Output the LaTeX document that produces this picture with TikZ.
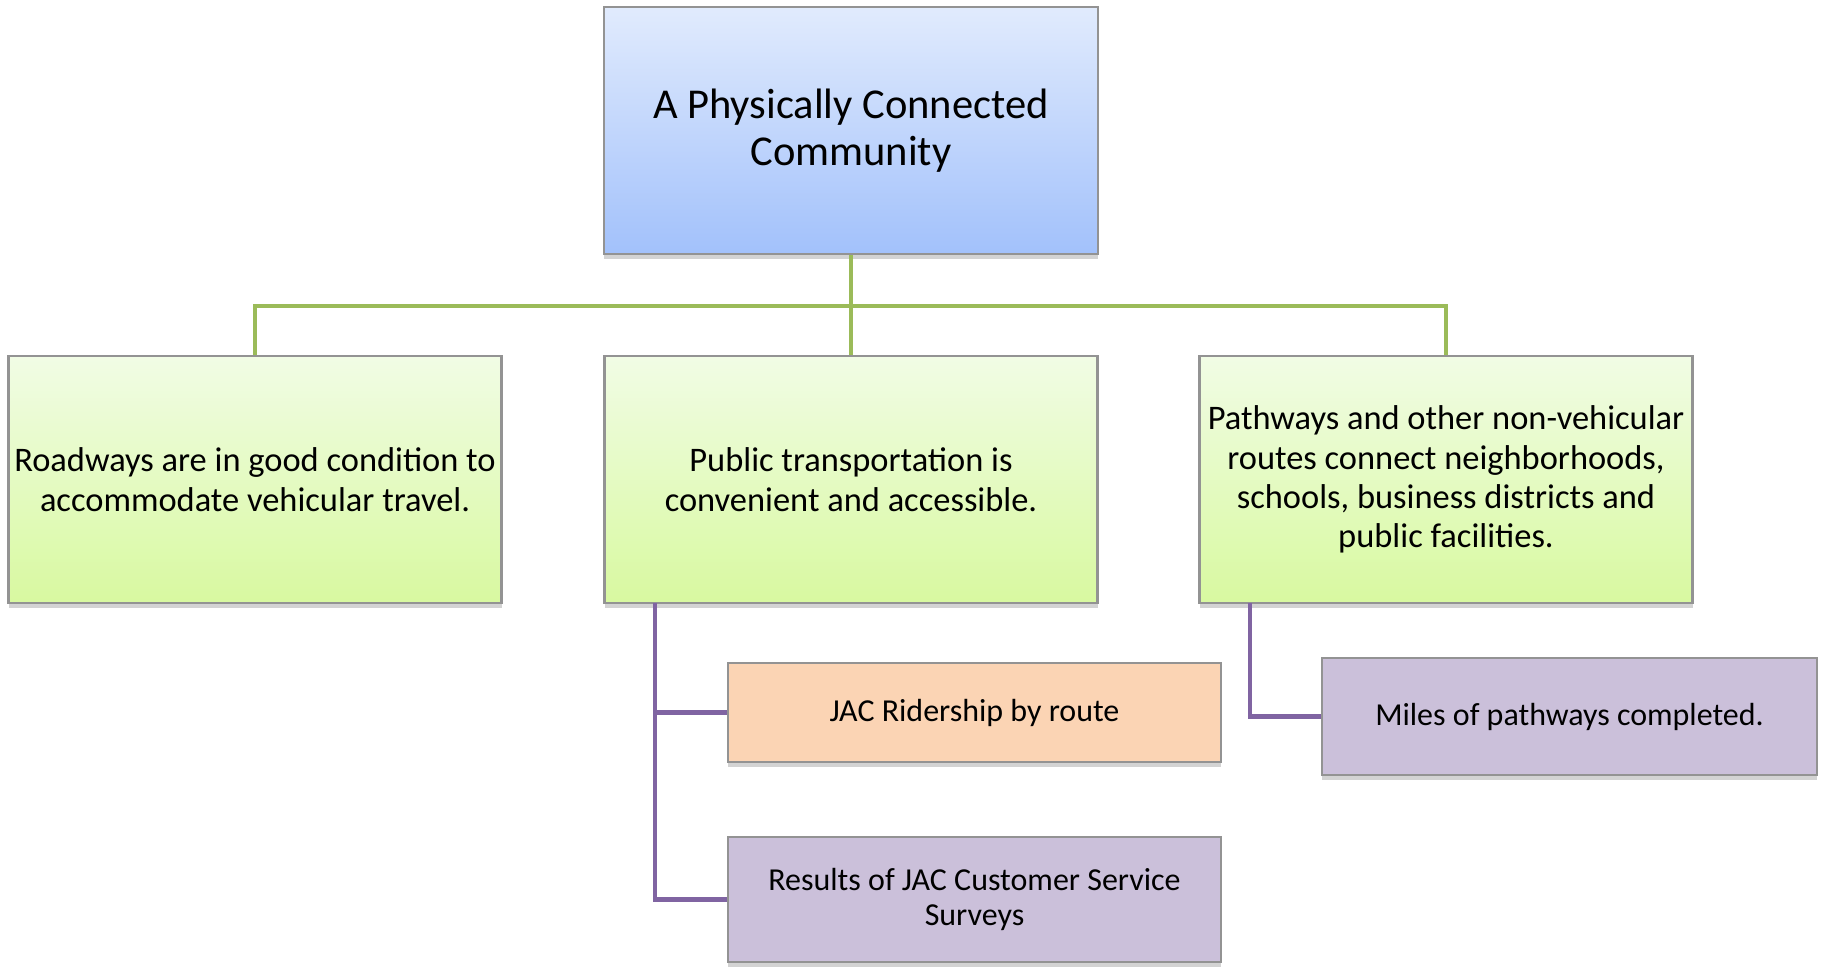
\documentclass[tikz,border=0pt]{standalone}
\usepackage{fontspec}
\setmainfont{Carlito}
\usepackage{tikz}
\usetikzlibrary{shadows}

\definecolor{topA}{HTML}{E1EBFD}
\definecolor{topB}{HTML}{A2C1FB}
\definecolor{grnA}{HTML}{F1FCE5}
\definecolor{grnB}{HTML}{D8F9A0}
\definecolor{orng}{HTML}{FBD4B4}
\definecolor{purp}{HTML}{CBC0DA}
\definecolor{grnline}{HTML}{9BBB59}
\definecolor{purline}{HTML}{8064A2}

\begin{document}
\begin{tikzpicture}[
	box/.style={draw=gray!85, line width=0.6pt, align=center, inner sep=0pt,
		drop shadow={shadow xshift=0pt, shadow yshift=-0.05cm, opacity=0.35}},
	topbox/.style={box, top color=topA, bottom color=topB, minimum width=4.94cm, minimum height=2.47cm,
		font=\fontsize{12.1}{13.4}\selectfont},
	goalbox/.style={box, top color=grnA, bottom color=grnB, minimum width=4.93cm, minimum height=2.47cm,
		font=\fontsize{9.8}{11.2}\selectfont},
	measbox/.style={box, minimum width=4.93cm, font=\fontsize{9.1}{10.1}\selectfont},
	gline/.style={draw=grnline, line width=1.2pt},
	pline/.style={draw=purline, line width=1.2pt}
	]
	\useasboundingbox (0,0) rectangle (18.24,-9.66);
	%
	\node[topbox] (v0) at (8.51,-1.305) {A Physically Connected\\Community};
	\node[goalbox] (v1) at (2.55,-4.795) {Roadways are in good condition to\\accommodate vehicular travel.};
	\node[goalbox] (v2) at (8.51,-4.795) {Public transportation is\\convenient and accessible.};
	\node[goalbox] (v3) at (14.46,-4.795) {Pathways and other non-vehicular\\routes connect neighborhoods,\\schools, business districts and\\public facilities.};
	%
	\node[measbox, fill=orng, minimum height=0.99cm] (w1) at (9.745,-7.125) {JAC Ridership by route};
	\node[measbox, fill=purp, minimum height=1.25cm] (w2) at (9.745,-8.995) {Results of JAC Customer Service\\Surveys};
	\node[measbox, fill=purp, minimum width=4.95cm, minimum height=1.17cm] (w3) at (15.695,-7.165) {Miles of pathways completed.};
	%
	\coordinate (bus) at (8.51,-3.06);
	\coordinate (t1) at (6.55,-6.03);
	\coordinate (t2) at (12.50,-6.03);
	%
	\draw[gline] (v0.south) -- (v2.north);
	\draw[gline] (v0.south) -- (bus) -| (v1.north);
	\draw[gline] (v0.south) -- (bus) -| (v3.north);
	\draw[pline] (t1) |- (w1.west);
	\draw[pline] (t1) |- (w2.west);
	\draw[pline] (t2) |- (w3.west);
\end{tikzpicture}
\end{document}
